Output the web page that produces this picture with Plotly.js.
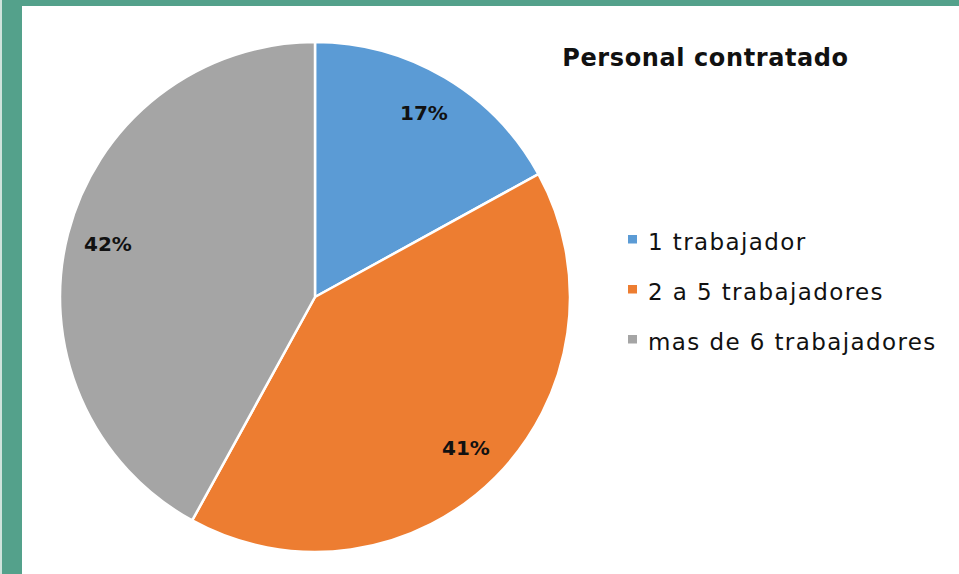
<!DOCTYPE html>
<html><head><meta charset="utf-8">
<script src="https://cdn.plot.ly/plotly-3.0.1.min.js"></script>
<style>
html,body{margin:0;padding:0;width:959px;height:574px;overflow:hidden;background:#54a18b;}
#edge{position:absolute;left:0;top:0;width:2px;height:574px;background:#cfe3dc;}
#chart{position:absolute;left:22px;top:6px;width:937px;height:568px;background:#fff;}
#chart .gtitle{letter-spacing:0.6px;}
</style></head><body><div id="edge"></div><div id="chart"></div>
<script>
const categories = ['1 trabajador', '2 a 5 trabajadores', 'mas de 6 trabajadores'];
const values = [17, 41, 42];
const colors = ['#5b9bd5', '#ed7d31', '#a5a5a5'];
const chartTitle = 'Personal contratado';

const W = 937, H = 568, OX = 22, OY = 6;
const px = X => (X - OX) / W;
const py = Y => 1 - (Y - OY) / H;

const CX = 315, CY = 297, R = 255;
const dom = {x: [px(CX - R), px(CX + R)], y: [py(CY + R), py(CY - R)]};

const FONT = '"DejaVu Sans", "Open Sans", sans-serif';
const total = values.reduce((a, b) => a + b, 0);
const annotations = [];
const shapes = [];
let cum = 0;
values.forEach((v, i) => {
  const mid = (cum + v / 2) / total * 2 * Math.PI;
  cum += v;
  const rr = 0.84 * R;
  annotations.push({
    xref: 'paper', yref: 'paper',
    x: px(CX + rr * Math.sin(mid)), y: py(CY - rr * Math.cos(mid)),
    text: Math.round(v / total * 100) + '%', showarrow: false,
    xanchor: 'center', yanchor: 'middle',
    font: {family: FONT, size: 20, color: '#111', weight: 700}
  });
  const ly = 242 + 50 * i;
  shapes.push({
    type: 'rect', xref: 'paper', yref: 'paper', line: {width: 0},
    fillcolor: colors[i],
    x0: px(628), x1: px(637), y0: py(ly - 7), y1: py(ly + 1.5)
  });
  annotations.push({
    xref: 'paper', yref: 'paper', x: px(646), y: py(ly),
    text: '<span style="letter-spacing:1.4px">' + categories[i] + '</span>',
    showarrow: false, xanchor: 'left', yanchor: 'middle',
    font: {family: FONT, size: 23, color: '#111'}
  });
});

const data = [{
  type: 'pie', labels: categories, values: values, sort: false,
  direction: 'clockwise', rotation: 0, textinfo: 'none', hoverinfo: 'label+percent',
  marker: {colors: colors, line: {color: '#ffffff', width: 2.5}},
  domain: dom, showlegend: false
}];

const layout = {
  width: W, height: H, margin: {l: 0, r: 0, t: 0, b: 0},
  paper_bgcolor: '#ffffff', showlegend: false,
  title: {text: chartTitle, xref: 'paper', x: px(705.5), xanchor: 'center',
          yref: 'container', y: py(58), yanchor: 'middle',
          font: {family: FONT, size: 24, color: '#111', weight: 700}},
  annotations: annotations, shapes: shapes
};
Plotly.newPlot('chart', data, layout, {displayModeBar: false, staticPlot: true});
</script></body></html>
